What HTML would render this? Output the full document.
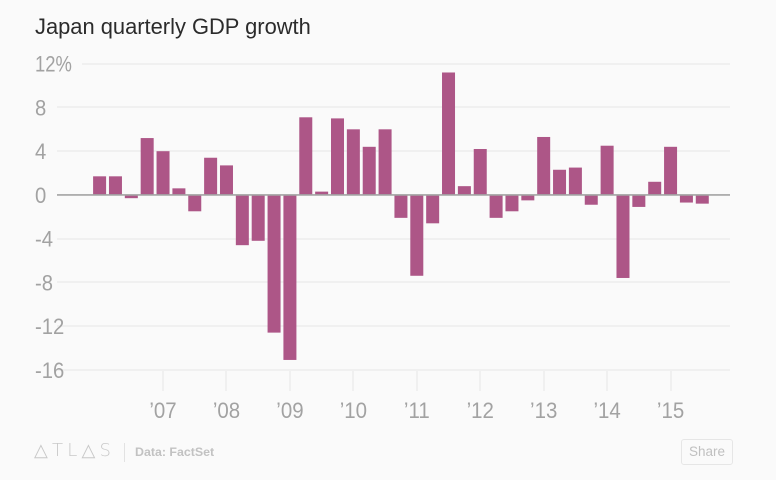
<!DOCTYPE html>
<html lang="en">
<head>
<meta charset="utf-8">
<title>Japan quarterly GDP growth</title>
<style>
html,body{margin:0;padding:0;background:#fafafa;}
body{width:776px;height:480px;overflow:hidden;position:relative;font-family:"Liberation Sans",sans-serif;}
#chart-title{position:absolute;left:35px;top:13px;font-size:21.9px;line-height:28px;color:#2b2b2b;white-space:nowrap;}
#chart{position:absolute;left:0;top:0;}
#logo{position:absolute;left:34px;top:441px;font-size:18px;line-height:20px;color:#c8c8c8;letter-spacing:4.2px;white-space:nowrap;font-family:"DejaVu Sans","Liberation Sans",sans-serif;font-weight:200;}
#divider{position:absolute;left:124px;top:443px;width:1px;height:19px;background:#e2e2e2;}
#source{position:absolute;left:135px;top:443px;font-size:12.4px;line-height:18px;font-weight:bold;color:#c2c2c2;white-space:nowrap;}
#share{position:absolute;left:681px;top:439px;width:52px;height:26px;box-sizing:border-box;border:1px solid #e6e6e6;border-radius:3px;font-size:13.5px;line-height:24px;text-align:center;color:#c0c0c0;background:#fafafa;}
</style>
</head>
<body>
<div id="chart-title">Japan quarterly GDP growth</div>
<svg id="chart" width="776" height="480"></svg>
<div id="logo">△TL△S</div>
<div id="divider"></div>
<div id="source">Data: FactSet</div>
<div id="share">Share</div>
<script>
const growthValues = [1.7,1.7,-0.3,5.2,4.0,0.6,-1.5,3.4,2.7,-4.6,-4.2,-12.6,-15.1,7.1,0.3,7.0,6.0,4.4,6.0,-2.1,-7.4,-2.6,11.2,0.8,4.2,-2.1,-1.5,-0.5,5.3,2.3,2.5,-0.9,4.5,-7.6,-1.1,1.2,4.4,-0.7,-0.8];
const yTicks = [12,8,4,0,-4,-8,-12,-16];
const yearLabels = ["’07","’08","’09","’10","’11","’12","’13","’14","’15"];
const yearStartIndex = [4,8,12,16,20,24,28,32,36];

const NS = "http://www.w3.org/2000/svg";
const svg = document.getElementById("chart");
const yScale = v => 194.9 - v * 10.93;
const xScale = i => 99.6 + i * 15.86;
const BAR_W = 13;
const FONT = '"Liberation Sans",sans-serif';

function make(tag, attrs, parent) {
  const el = document.createElementNS(NS, tag);
  for (const k in attrs) el.setAttribute(k, attrs[k]);
  (parent || svg).appendChild(el);
  return el;
}

yTicks.forEach(t => {
  const y = yScale(t);
  if (t !== 0) {
    const gy = Math.round(y);
    const grid = make("line", {x1: t === 12 ? 82 : 57, x2: 730, y1: gy, y2: gy, stroke: "#f0f0f0", "stroke-width": 2});
    
    
  }
  const sx = t === 12 ? 0.82 : 0.9;
  const label = make("text", {x: 0, y: 0, transform: `translate(35 ${y + 8}) scale(${sx} 1)`, "font-size": 22.5, fill: "#a2a2a2", "font-family": FONT});
  
  
  label.textContent = t === 12 ? t + "%" : String(t);
});

yearLabels.forEach((lab, i) => {
  const x = xScale(yearStartIndex[i]);
  const tx = Math.round(x);
  const tick = make("line", {x1: tx, x2: tx, y1: 370, y2: 391, stroke: "#f0f0f0", "stroke-width": 2});
  
  
  const label = make("text", {x: 0, y: 0, transform: `translate(${x} 418) scale(0.93 1)`, "font-size": 22, "text-anchor": "middle", fill: "#a2a2a2", "font-family": FONT});
  
  
  label.textContent = lab;
});

growthValues.forEach((v, i) => {
  const y0 = yScale(0), y1 = yScale(v);
  const bar = make("rect", {x: xScale(i) - BAR_W / 2, y: Math.min(y0, y1), width: BAR_W, height: Math.abs(y1 - y0), fill: "#ad5687"});
  
  
});

const zeroLine = make("line", {x1: 57, x2: 730, y1: yScale(0), y2: yScale(0), stroke: "#a3a3a3", "stroke-width": 1.6});


</script>
</body>
</html>
